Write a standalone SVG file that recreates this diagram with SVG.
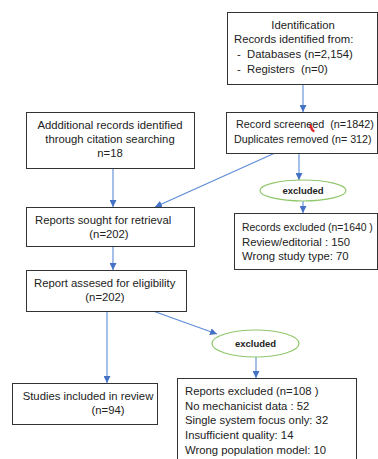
<svg xmlns="http://www.w3.org/2000/svg" width="378" height="459" viewBox="0 0 378 459">
<defs>
<marker id="ah" viewBox="0 0 10 10" refX="10" refY="5" markerWidth="7" markerHeight="7" markerUnits="userSpaceOnUse" orient="auto">
<path d="M0,0 L10,5 L0,10 z" fill="#4472C4"/>
</marker>
<style>
.box{fill:#fff;stroke:#333;stroke-width:1}
.ell{fill:#fff;stroke:#8FC66A;stroke-width:1.2}
.t{font-family:"Liberation Sans",Arial,sans-serif;font-size:11.3px;fill:#222;white-space:pre}
.c{text-anchor:middle}
.b{font-weight:bold;font-size:9.5px}
.ln{stroke:#5B8BD6;stroke-width:1.1;fill:none;marker-end:url(#ah)}
</style>
</defs>
<rect width="378" height="459" fill="#fff"/>
<g id="connectors">
<line class="ln" x1="303" y1="84" x2="303" y2="112"/>
<line class="ln" x1="299" y1="153" x2="299" y2="180"/>
<line class="ln" x1="303" y1="201" x2="303" y2="213"/>
<line class="ln" x1="113" y1="168" x2="113" y2="207"/>
<line class="ln" x1="275" y1="153" x2="155" y2="207"/>
<line class="ln" x1="113" y1="246" x2="113" y2="270"/>
<line class="ln" x1="107" y1="311" x2="107" y2="383"/>
<line class="ln" x1="153" y1="311" x2="217" y2="334"/>
<line class="ln" x1="256" y1="357" x2="256" y2="378"/>
</g>
<g id="identification">
<rect class="box" x="227.5" y="12.5" width="150" height="72"/>
<text class="t c" x="303" y="29">Identification</text>
<text class="t" x="234" y="43">Records identified from:</text>
<text class="t" x="237" y="58" xml:space="preserve">-  Databases (n=2,154)</text>
<text class="t" x="237" y="73" xml:space="preserve">-  Registers  (n=0)</text>
</g>
<g id="screened">
<rect class="box" x="226.5" y="112.5" width="151" height="41"/>
<text class="t" x="236" y="128" xml:space="preserve" style="font-size:10.8px">Record screeneed  (n=1842)</text>
<text class="t" x="234" y="143" style="font-size:10.7px">Duplicates removed (n= 312)</text>
<path d="M310.5,125.5 L312,129.5 L313.5,131" stroke="#E0202A" stroke-width="2.4" stroke-linecap="round" fill="none"/>
</g>
<g id="excluded1">
<ellipse class="ell" cx="303" cy="190.5" rx="43" ry="10.5"/>
<text class="t c b" x="303" y="194">excluded</text>
</g>
<g id="records-excluded">
<rect class="box" x="234.5" y="213.5" width="143" height="56"/>
<text class="t" x="242" y="231" style="font-size:10.4px">Records excluded (n=1640 )</text>
<text class="t" x="242" y="246">Review/editorial : 150</text>
<text class="t" x="242" y="260">Wrong study type: 70</text>
</g>
<g id="additional">
<rect class="box" x="26.5" y="112.5" width="168" height="56"/>
<text class="t c" x="110" y="129">Addditional records identified</text>
<text class="t c" x="110" y="143">through citation searching</text>
<text class="t c" x="110" y="157">n=18</text>
</g>
<g id="sought">
<rect class="box" x="26.5" y="207.5" width="168" height="39"/>
<text class="t" x="35" y="224">Reports sought for retrieval</text>
<text class="t c" x="109" y="238">(n=202)</text>
</g>
<g id="assessed">
<rect class="box" x="26.5" y="270.5" width="160" height="41"/>
<text class="t" x="34" y="287">Report assesed for eligibility</text>
<text class="t c" x="105" y="301">(n=202)</text>
</g>
<g id="excluded2">
<ellipse class="ell" cx="255.5" cy="343.5" rx="43.5" ry="13.5"/>
<text class="t c b" x="255.5" y="347">excluded</text>
</g>
<g id="reports-excluded">
<rect class="box" x="177.5" y="378.5" width="179" height="90"/>
<text class="t" x="185" y="395">Reports excluded (n=108 )</text>
<text class="t" x="185" y="410">No mechanicist data : 52</text>
<text class="t" x="185" y="424">Single system focus only: 32</text>
<text class="t" x="185" y="439">Insufficient quality: 14</text>
<text class="t" x="185" y="454">Wrong population model: 10</text>
</g>
<g id="included">
<rect class="box" x="12.5" y="383.5" width="145" height="41"/>
<text class="t c" x="88" y="400">Studies included in review</text>
<text class="t c" x="108" y="414">(n=94)</text>
</g>
</svg>
